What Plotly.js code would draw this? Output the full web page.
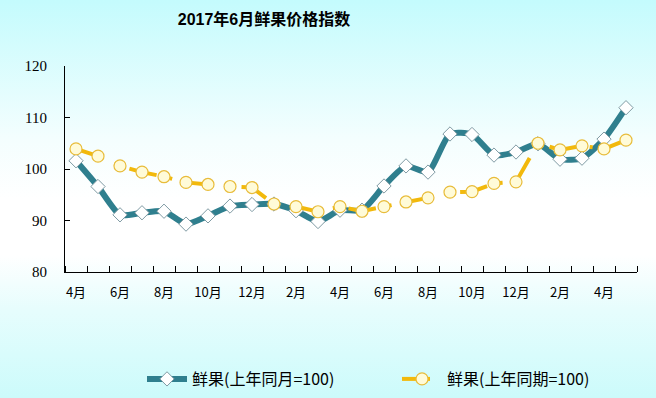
<!DOCTYPE html>
<html>
<head>
<meta charset="utf-8">
<script src="https://cdn.plot.ly/plotly-3.0.1.min.js"></script>
<style>
html,body{margin:0;padding:0;}
body{width:656px;height:398px;background:linear-gradient(to bottom,#c4fbfd 0%,#f4fefe 35%,#ffffff 50%,#ffffff 64%,#e6fdfd 78%,#ccfbfb 100%);}
#chart{width:656px;height:398px;}
</style>
</head>
<body>
<div id="chart"></div>
<script>
// Months April 2015 .. May 2017
const months = ["2015-04","2015-05","2015-06","2015-07","2015-08","2015-09","2015-10","2015-11","2015-12",
  "2016-01","2016-02","2016-03","2016-04","2016-05","2016-06","2016-07","2016-08","2016-09","2016-10","2016-11","2016-12",
  "2017-01","2017-02","2017-03","2017-04","2017-05"];
const tickLabels = ["4月","6月","8月","10月","12月","2月","4月","6月","8月","10月","12月","2月","4月"];
const seriesMonthName = "鲜果(上年同月=100)";
const seriesPeriodName = "鲜果(上年同期=100)";
const fruitYoYMonth = [101.6,96.6,91.1,91.5,91.8,89.3,90.9,92.8,93.1,93.2,91.9,89.8,92.0,92.0,96.7,100.6,99.4,106.8,106.7,102.7,103.3,104.9,101.9,102.1,105.8,111.9];
const fruitYoYPeriod = [103.9,102.5,100.6,99.4,98.5,97.4,97.0,96.6,96.4,93.2,92.7,91.7,92.7,91.8,92.7,93.6,94.4,95.5,95.6,97.2,97.5,105.0,103.7,104.5,103.9,105.6];

const xs = months.map((m,i)=>i);
const tickIdx = months.map((m,i)=>i).filter(i=>i%2===0);

const traces = [
  {
    x: xs, y: fruitYoYMonth, name: seriesMonthName, type:'scatter', mode:'lines+markers',
    line:{color:'#2f7f8e', width:6, shape:'spline', smoothing:0.6},
    marker:{symbol:'diamond', size:11, color:'#ffffff', line:{color:'#7f9aa3', width:1}}
  },
  {
    x: xs, y: fruitYoYPeriod, name: seriesPeriodName, type:'scatter', mode:'lines+markers',
    line:{color:'#f2b90c', width:4, dash:'28px,13px,3px,13px'},
    marker:{symbol:'circle', size:12, color:'#fffbd8', line:{color:'#e8bc3a', width:1.2}}
  }
];

const layout = {
  width:656, height:398,
  margin:{l:65, r:19, t:66, b:126},
  paper_bgcolor:'rgba(0,0,0,0)', plot_bgcolor:'rgba(0,0,0,0)',
  font:{family:'"Liberation Serif","Noto Sans CJK SC",serif', color:'#000', size:14},
  title:{text:'2017年6月鲜果价格指数', x:264/656, xref:'container', xanchor:'center',
         y:1-19/398, yref:'container', yanchor:'middle',
         font:{family:'"Liberation Sans","Noto Sans CJK SC",sans-serif', size:16, color:'#000', weight:'bold'}},
  xaxis:{type:'linear', range:[-0.5,25.5], showgrid:false, zeroline:false,
         showline:true, linecolor:'#000', linewidth:1,
         tickvals:tickIdx, ticktext:tickLabels, ticks:'', ticklabelstandoff:8,
         tickfont:{family:'"Noto Sans CJK SC","Liberation Serif",serif', size:13, color:'#000'},
         minor:{tick0:-0.5, dtick:1, ticks:'inside', ticklen:6, tickcolor:'#000', tickwidth:1, showgrid:false}},
  yaxis:{range:[80,120], tickvals:[80,90,100,110,120], showgrid:false, zeroline:false,
         showline:true, linecolor:'#000', linewidth:1, ticks:'inside', ticklen:5, tickcolor:'#000',
         ticklabelstandoff:14, tickfont:{family:'"Liberation Serif",serif', size:15, color:'#000'}},
  showlegend:true,
  legend:{orientation:'h', x:142/656, xref:'container', xanchor:'left', y:1-379/398, yref:'container', yanchor:'middle',
          entrywidth:200, entrywidthmode:'pixels', itemwidth:40, bgcolor:'rgba(0,0,0,0)',
          font:{family:'"Noto Sans CJK SC",sans-serif', size:16, color:'#000'}}
};

Plotly.newPlot('chart', traces, layout, {displayModeBar:false, staticPlot:true});
</script>
</body>
</html>
